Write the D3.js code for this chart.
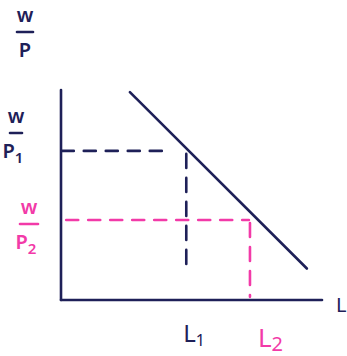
<!DOCTYPE html>
<html>
<head>
<meta charset="utf-8">
<script src="https://cdn.jsdelivr.net/npm/d3@7"></script>
<style>
  html, body { margin: 0; padding: 0; background: #fff; }
  svg { display: block; }
  text { font-family: "Noto Sans", "DejaVu Sans", sans-serif; }
</style>
</head>
<body>
<svg id="chart" width="347" height="356"></svg>
<script>
// Labour-demand diagram: real wage (w/P) against labour (L)
const navy = "#1e2058";
const pink = "#f23aa8";

// Demand curve endpoints [L, w/P]
const demandL = [2.64, 9.42];
const demandWP = [7.92, 1.2];

// Equilibrium readings
const levelsL = [4.8, 7.24];      // L1, L2
const levelsWP = [5.68, 3.05];    // w/P1, w/P2
const guideBottom = [1.07, 0.12]; // where each vertical guide stops
const guideLeft = [0.03, 0.2];    // where each horizontal guide starts
const guideRight = [3.9, 7.2];    // where each horizontal guide stops
const levelColors = [navy, pink];
const xLabels = ["L", "L"];
const xSubs = ["1", "2"];
const yLabels = ["P", "P"];

const svg = d3.select("#chart");
const x = d3.scaleLinear().domain([0, 10]).range([61, 322]);
const y = d3.scaleLinear().domain([0, 8]).range([300, 90]);

const stroke = 2.6;

// Axes
svg.append("line").attr("x1", x(0)).attr("x2", x(0)).attr("y1", y(8)).attr("y2", y(0))
  .attr("stroke", navy).attr("stroke-width", stroke).attr("stroke-linecap", "round");
svg.append("line").attr("x1", x(0)).attr("x2", x(10)).attr("y1", y(0)).attr("y2", y(0))
  .attr("stroke", navy).attr("stroke-width", stroke).attr("stroke-linecap", "round");

// Demand line
svg.append("line")
  .attr("x1", x(demandL[0])).attr("y1", y(demandWP[0]))
  .attr("x2", x(demandL[1])).attr("y2", y(demandWP[1]))
  .attr("stroke", navy).attr("stroke-width", stroke).attr("stroke-linecap", "round");

// Dashed guides
levelsL.forEach((l, i) => {
  const c = levelColors[i];
  svg.append("line")
    .attr("x1", x(guideLeft[i])).attr("x2", x(guideRight[i]))
    .attr("y1", y(levelsWP[i])).attr("y2", y(levelsWP[i]))
    .attr("stroke", c).attr("stroke-width", stroke).attr("stroke-linecap", "round")
    .attr("stroke-dasharray", "12 10");
  svg.append("line")
    .attr("x1", x(l)).attr("x2", x(l))
    .attr("y1", y(levelsWP[i]) + 3).attr("y2", y(guideBottom[i]))
    .attr("stroke", c).attr("stroke-width", stroke).attr("stroke-linecap", "round")
    .attr("stroke-dasharray", "14 10");
});

// Fraction label helper: numerator, bar, denominator (+ optional subscript)
function fraction(cx, top, color, den, sub, barW) {
  const g = svg.append("g").attr("fill", color);
  g.append("text").attr("x", cx).attr("y", top).attr("text-anchor", "middle")
    .attr("font-size", 20).attr("font-weight", 600).text("w");
  g.append("line").attr("x1", cx - barW / 2).attr("x2", cx + barW / 2)
    .attr("y1", top + 10).attr("y2", top + 10)
    .attr("stroke", color).attr("stroke-width", stroke).attr("stroke-linecap", "round");
  const t = g.append("text").attr("x", cx - (sub ? 3 : 0)).attr("y", top + 35).attr("text-anchor", "middle")
    .attr("font-size", 20).attr("font-weight", 600).text(den);
  if (sub) t.append("tspan").attr("font-size", 15).attr("dy", 5).text(sub);
}

fraction(25, 22, navy, "P", null, 16);
fraction(16, 123, navy, yLabels[0], "1", 12);
fraction(29, 214, pink, yLabels[1], "2", 18);

// Axis name and labour levels
svg.append("text").attr("x", x(10) + 14).attr("y", y(0) + 12)
  .attr("fill", navy).attr("font-size", 20).text("L");

levelsL.forEach((l, i) => {
  const t = svg.append("text").attr("x", x(l) + (i ? 8 : -3)).attr("y", y(0) + (i ? 47 : 42))
    .attr("fill", levelColors[i]).attr("font-size", i ? 26 : 24).text(xLabels[i]);
  t.append("tspan").attr("font-size", i ? 20 : 16).attr("dy", 4).text(xSubs[i]);
});
</script>
</body>
</html>
